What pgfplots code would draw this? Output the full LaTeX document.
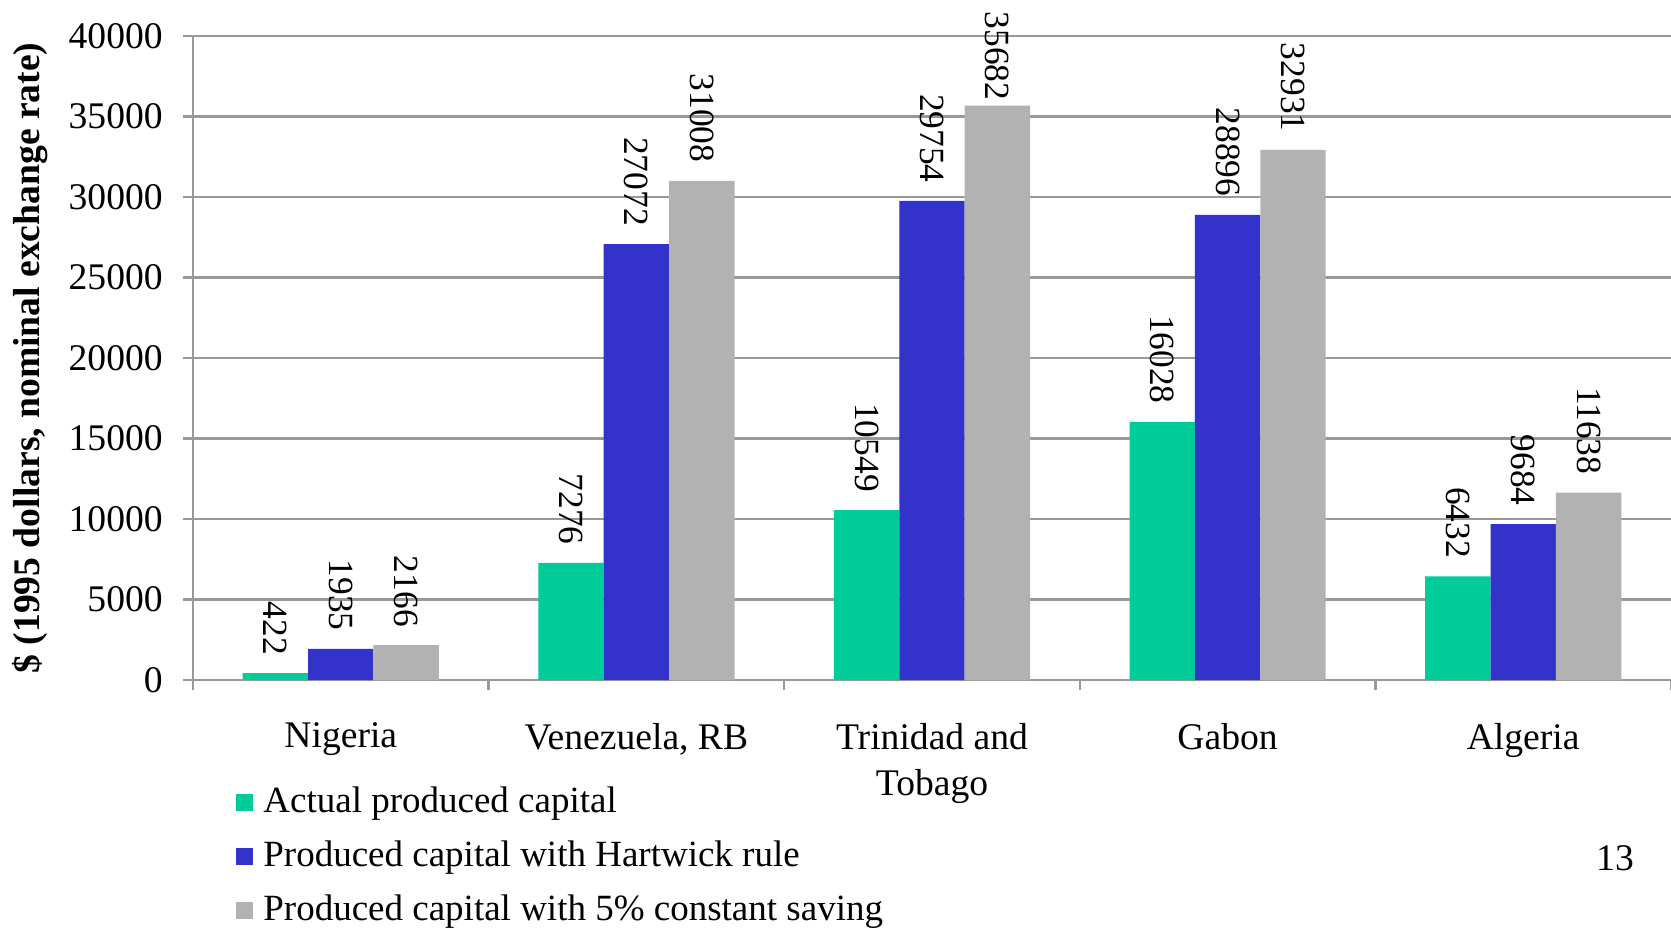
\documentclass[border=0pt]{standalone}
\usepackage{fontspec}
\setmainfont{Liberation Serif}
\usepackage{pgfplots}
\pgfplotsset{compat=1.18}
\definecolor{cgreen}{HTML}{00CC99}
\definecolor{cblue}{HTML}{3333CC}
\definecolor{cgray}{HTML}{B2B2B2}
\definecolor{gridc}{HTML}{999999}
\newcommand{\bigf}{\fontsize{18.8}{23}\selectfont}
\newcommand{\labf}{\fontsize{17.7}{21}\selectfont}
\newcommand{\legf}{\fontsize{18.5}{22}\selectfont}
\pgfplotsset{
  /pgf/number format/1000 sep={},
  mybar/.style={draw=none, fill=#1,
    legend image code/.code={\fill[fill=#1,draw=none] (0pt,-4.25pt) rectangle (8.5pt,4.25pt);}},
}
\begin{document}
\bigf
\begin{tikzpicture}
\begin{axis}[
  at={(0,0)}, anchor=south west,
  width=739pt, height=322pt, scale only axis,
  clip=false,
  ybar=0pt, bar width=32.7pt,
  xmin=-0.5, xmax=4.5, ymin=0, ymax=40000,
  ytick={0,5000,...,40000},
  scaled y ticks=false,
  xtick={-0.5,0.5,1.5,2.5,3.5,4.5},
  xticklabels={},
  extra x ticks={0,1,2,3,4},
  extra x tick labels={Nigeria, {Venezuela, RB}, {Trinidad and\\Tobago}, Gabon, Algeria},
  extra x tick style={major tick length=0pt, grid=none,
    tick label style={align=center, font=\bigf, anchor=north, yshift=-15pt}},
  tick align=outside,
  major tick length=5pt,
  tick style={gridc, line width=1.2pt},
  axis x line*=bottom, axis y line*=left,
  axis line style={gridc, line width=1.2pt},
  ymajorgrids=true,
  grid style={gridc, line width=1.2pt},
  yticklabel style={font=\bigf, xshift=-3.7pt, /pgf/number format/assume math mode=true},
  ylabel={\$ (1995 dollars, nominal exchange rate)},
  ylabel style={font=\bfseries\bigf, at={(axis description cs:-0.1103,0.5)}, anchor=center},
  nodes near coords,
  nodes near coords style={font=\labf, rotate=-90, anchor=east, inner xsep=9pt, inner ysep=0pt,
    /pgf/number format/assume math mode=true, text=black},
  legend cell align=left,
  legend style={at={(0,0)}, anchor=north west, xshift=18.5pt, yshift=-50pt,
    draw=none, fill=none, font=\legf, row sep=9.5pt,
    nodes={inner sep=1pt}},
]
\addplot[mybar=cgreen] coordinates {(0,422) (1,7276) (2,10549) (3,16028) (4,6432)};
\addplot[mybar=cblue] coordinates {(0,1935) (1,27072) (2,29754) (3,28896) (4,9684)};
\addplot[mybar=cgray, coordinate style/.condition={x>1.5 && x<2.5}{yshift=-6.5pt}] coordinates {(0,2166) (1,31008) (2,35682) (3,32931) (4,11638)};
\legend{\hspace{4pt}Actual produced capital, \hspace{4pt}Produced capital with Hartwick rule, \hspace{4pt}Produced capital with 5\% constant saving}
\end{axis}
\node at (711pt,-89pt) {13};
\pgfresetboundingbox
\path[use as bounding box] (-96.5pt,-124pt) rectangle (739pt,340pt);
\end{tikzpicture}
\end{document}
